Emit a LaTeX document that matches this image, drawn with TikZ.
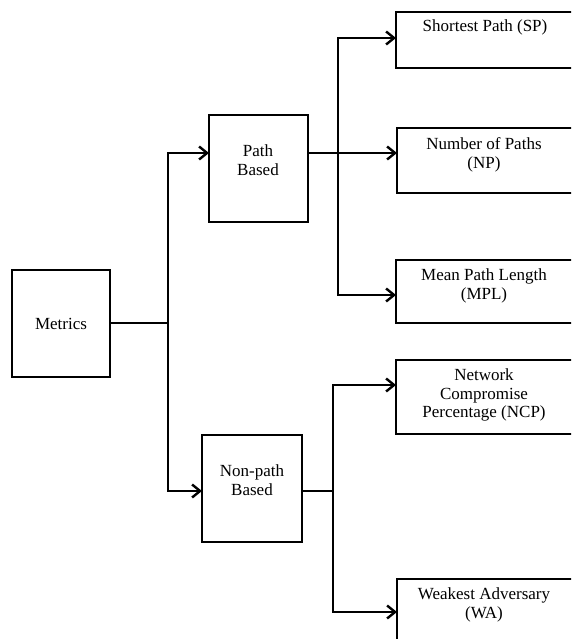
\documentclass[tikz,border=0pt]{standalone}
\usepackage{fontspec}
\setmainfont{Liberation Serif}
\usetikzlibrary{arrows.meta}
\begin{document}
\begin{tikzpicture}[x=1pt,y=-1pt,
  box/.style={draw=black,line width=2.4pt},
  txt/.style={align=center,inner sep=0pt,font=\fontsize{17}{18.5}\selectfont},
  ln/.style={line width=2.4pt},
  arr/.style={line width=2.4pt,-{Straight Barb[length=8pt,width=13pt,line width=2.4pt]}}]
\useasboundingbox (0,0) rectangle (571,639);
\clip (0,0) rectangle (571,639);
% boxes
\draw[box] (12,270) rectangle (110,377);
\draw[box] (209,115) rectangle (308,222);
\draw[box] (202,435) rectangle (302,542);
\draw[box] (396,12) rectangle (590,68);
\draw[box] (397,128) rectangle (590,193);
\draw[box] (396,260) rectangle (590,323);
\draw[box] (396,360) rectangle (590,434);
\draw[box] (397,579) rectangle (590,660);
% texts
\node[txt] (tmet) at (61,324) {Metrics};
\node[txt] (tpath) at (258,160) {Path\\Based};
\node[txt] (tnon) at (252,480) {Non-path\\Based};
\node[txt] (tsp) at (485,27) {Shortest Path (SP)};
\node[txt] (tnp) at (484,155) {Number of Paths\\(NP)};
\node[txt] (tmpl) at (484,286) {Mean Path Length\\(MPL)};
\node[txt] (tncp) at (484,395) {Network\\Compromise\\Percentage (NCP)};
\node[txt] (twa) at (484,605) {Weakest Adversary\\(WA)};
% connection points
\coordinate (mout) at (110,323);
\coordinate (ja) at (168,323);
\coordinate (pin) at (209,153);
\coordinate (nin) at (202,491);
\coordinate (pout) at (308,153);
\coordinate (jb) at (338,153);
\coordinate (spin) at (396,38);
\coordinate (npin) at (397,153);
\coordinate (mplin) at (396,295);
\coordinate (nout) at (302,491);
\coordinate (jc) at (333,491);
\coordinate (ncpin) at (396,385);
\coordinate (wain) at (397,612);
% connectors
\draw[ln] (mout) -- (ja);
\draw[arr] (ja) |- (pin);
\draw[arr] (ja) |- (nin);
\draw[arr] (pout) -- (npin);
\draw[arr] (jb) |- (spin);
\draw[arr] (jb) |- (mplin);
\draw[ln] (nout) -- (jc);
\draw[arr] (jc) |- (ncpin);
\draw[arr] (jc) |- (wain);
\end{tikzpicture}
\end{document}
